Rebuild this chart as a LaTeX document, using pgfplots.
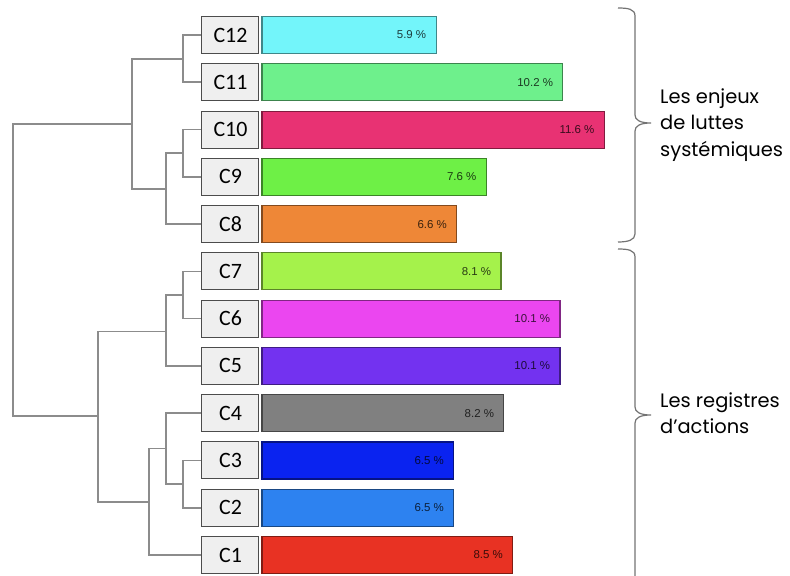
\documentclass[border=0pt]{standalone}
\usepackage{fontspec}
\setmainfont{Liberation Sans}
\newfontfamily\sidefont{Poppins}
\newfontfamily\carlito{Carlito}
\usepackage{pgfplots}
\pgfplotsset{compat=1.18}

\definecolor{c12}{HTML}{73F5FA}
\definecolor{c11}{HTML}{6EF08C}
\definecolor{c10}{HTML}{E83273}
\definecolor{c9}{HTML}{6EF046}
\definecolor{c8}{HTML}{EE8737}
\definecolor{c7}{HTML}{A5F24B}
\definecolor{c6}{HTML}{EB46F0}
\definecolor{c5}{HTML}{7332F0}
\definecolor{c4}{HTML}{808080}
\definecolor{c3}{HTML}{0A23F0}
\definecolor{c2}{HTML}{2D82F0}
\definecolor{c1}{HTML}{E83223}
\definecolor{dendro}{HTML}{8C8C8C}
\definecolor{boxfill}{HTML}{EFEFEF}

\pgfplotsset{
  bbar/.style={xbar, bar width=37bp, bar shift=0pt, fill=#1, draw=#1!55!black, line width=1.1bp,
    point meta=explicit symbolic, nodes near coords,
    every node near coord/.append style={anchor=east, xshift=-6bp, font=\fontsize{11.5}{12}\selectfont, text=#1!25!black}},
  dline/.style={draw=dendro, line width=1.7bp, mark=none, forget plot},
}

\begin{document}
\begin{tikzpicture}
\begin{axis}[
  width=790bp, height=576bp, scale only axis,
  xmin=-8.8814, xmax=17.8983, ymin=0.5557, ymax=12.741,
  hide axis, clip=false,
]
% dendrogram
\addplot[dline] coordinates {(-2.034,12) (-2.678,12) (-2.678,11) (-2.034,11)};
\addplot[dline] coordinates {(-2.034,10) (-2.678,10) (-2.678,9) (-2.034,9)};
\addplot[dline] coordinates {(-2.678,9.5) (-3.254,9.5) (-3.254,8) (-2.034,8)};
\addplot[dline] coordinates {(-2.678,11.5) (-4.407,11.5) (-4.407,8.75) (-3.254,8.75)};
\addplot[dline] coordinates {(-2.034,7) (-2.678,7) (-2.678,6) (-2.034,6)};
\addplot[dline] coordinates {(-2.678,6.5) (-3.254,6.5) (-3.254,5) (-2.034,5)};
\addplot[dline] coordinates {(-2.034,3) (-2.678,3) (-2.678,2) (-2.034,2)};
\addplot[dline] coordinates {(-2.034,4) (-3.254,4) (-3.254,2.5) (-2.678,2.5)};
\addplot[dline] coordinates {(-3.254,3.25) (-3.831,3.25) (-3.831,1) (-2.034,1)};
\addplot[dline] coordinates {(-3.254,5.73) (-5.559,5.73) (-5.559,2.125) (-3.831,2.125)};
\addplot[dline] coordinates {(-4.407,10.125) (-8.441,10.125) (-8.441,3.9375) (-5.559,3.9375)};
% label boxes
\pgfplotsinvokeforeach{1,...,12}{
  \node[draw=black!70, fill=boxfill, line width=1bp, minimum width=57bp, minimum height=37bp,
        inner sep=0pt, font=\carlito\fontsize{22}{22}\selectfont] at (axis cs:-1.068,#1) {C#1};
}
% bars
\addplot[bbar=c12] coordinates {(5.9,12) [5.9 \%]};
\addplot[bbar=c11] coordinates {(10.2,11) [10.2 \%]};
\addplot[bbar=c10] coordinates {(11.6,10) [11.6 \%]};
\addplot[bbar=c9]  coordinates {(7.6,9) [7.6 \%]};
\addplot[bbar=c8]  coordinates {(6.6,8) [6.6 \%]};
\addplot[bbar=c7]  coordinates {(8.1,7) [8.1 \%]};
\addplot[bbar=c6]  coordinates {(10.1,6) [10.1 \%]};
\addplot[bbar=c5]  coordinates {(10.1,5) [10.1 \%]};
\addplot[bbar=c4]  coordinates {(8.2,4) [8.2 \%]};
\addplot[bbar=c3]  coordinates {(6.5,3) [6.5 \%]};
\addplot[bbar=c2]  coordinates {(6.5,2) [6.5 \%]};
\addplot[bbar=c1]  coordinates {(8.5,1) [8.5 \%]};
\end{axis}
\begin{scope}[shift={(current axis.north west)}, x={(1bp,0)}, y={(0,-1bp)}]
  \draw[color=black!55, line width=1.2bp]
    (618,8) .. controls (628,8) and (635,9) .. (635,16) -- (635,115)
    .. controls (635,120) and (640,123) .. (651,123)
    .. controls (640,123) and (635,126) .. (635,131) -- (635,234)
    .. controls (635,240) and (628,242) .. (618,242);
  \draw[color=black!55, line width=1.2bp]
    (618,249) .. controls (628,249) and (635,250) .. (635,257) -- (635,407)
    .. controls (635,412) and (640,415) .. (651,415)
    .. controls (640,415) and (635,418) .. (635,423) -- (635,600);
  \node[anchor=west, align=left, inner sep=0pt, font=\sidefont\fontsize{19.5}{26.5}\selectfont]
    at (660,125) {Les enjeux\\de luttes\\systémiques};
  \node[anchor=west, align=left, inner sep=0pt, font=\sidefont\fontsize{19.5}{26.5}\selectfont]
    at (660,413) {Les registres\\d’actions};
\end{scope}
\pgfresetboundingbox
\useasboundingbox (current axis.south west) rectangle (current axis.north east);
\end{tikzpicture}
\end{document}
